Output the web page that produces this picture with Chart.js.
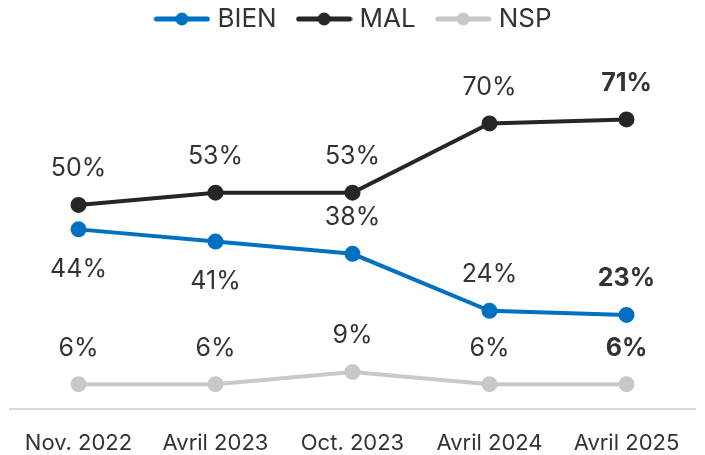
<!DOCTYPE html>
<html>
<head>
<meta charset="utf-8">
<script src="https://cdn.jsdelivr.net/npm/chart.js@4"></script>
<style>
  html, body { margin: 0; padding: 0; background: #fff; }
  #wrap { width: 705px; height: 455px; }
</style>
</head>
<body>
<div id="wrap"><canvas id="myChart"></canvas></div>
<script>
// Données
const categories = ['Nov. 2022', 'Avril 2023', 'Oct. 2023', 'Avril 2024', 'Avril 2025'];
const bien = [44, 41, 38, 24, 23];
const mal = [50, 53, 53, 70, 71];
const nsp = [6, 6, 9, 6, 6];
const yTicks = [0, 90];

const FONT = "Inter, 'Liberation Sans', Arial, sans-serif";
const TEXT_COLOR = '#333333';

// Marqueur de légende : trait + point
function legendMarker(color) {
    const c = document.createElement('canvas');
    c.width = 57;
    c.height = 14;
    const g = c.getContext('2d');
    g.strokeStyle = color;
    g.lineWidth = 5;
    g.lineCap = 'round';
    g.beginPath();
    g.moveTo(3, 7);
    g.lineTo(54, 7);
    g.stroke();
    g.fillStyle = color;
    g.beginPath();
    g.arc(28.5, 7, 6.5, 0, Math.PI * 2);
    g.fill();
    return c;
}

// Étiquettes de valeurs (au-dessus / en dessous)
const valueLabels = {
    id: 'valueLabels',
    afterDatasetsDraw(chart) {
        const ctx = chart.ctx;
        ctx.save();
        ctx.textAlign = 'center';
        ctx.textBaseline = 'middle';
        ctx.fillStyle = TEXT_COLOR;
        chart.data.datasets.forEach((ds, di) => {
            const meta = chart.getDatasetMeta(di);
            meta.data.forEach((pt, i) => {
                const below = ds.labelBelow && ds.labelBelow[i];
                const last = i === ds.data.length - 1;
                ctx.font = (last ? 'bold ' : '') + '25px ' + FONT;
                const y = below ? pt.y + 40 : pt.y - 36;
                ctx.fillText(ds.data[i] + '%', pt.x, y);
            });
        });
        ctx.restore();
    }
};

const ctx = document.getElementById('myChart').getContext('2d');

const graph = new Chart(ctx, {
    type: 'line',
    data: {
        labels: categories,
        datasets: [
            {
                label: 'BIEN',
                data: bien,
                borderColor: '#0070C0',
                backgroundColor: '#0070C0',
                borderWidth: 4,
                pointRadius: 6,
                pointStyle: 'circle',
                labelBelow: [true, true, false, false, false]
            },
            {
                label: 'MAL',
                data: mal,
                borderColor: '#262626',
                backgroundColor: '#262626',
                borderWidth: 4,
                pointRadius: 6,
                pointStyle: 'circle'
            },
            {
                label: 'NSP',
                data: nsp,
                borderColor: '#C8C8C8',
                backgroundColor: '#C8C8C8',
                borderWidth: 4,
                pointRadius: 6,
                pointStyle: 'circle'
            }
        ]
    },
    options: {
        responsive: true,
        maintainAspectRatio: false,
        animation: false,
        layout: {
            padding: { left: 9, right: 3, top: -19, bottom: -24 }
        },
        plugins: {
            legend: {
                display: true,
                position: 'top',
                labels: {
                    usePointStyle: true,
                    pointStyleWidth: 45,
                    color: TEXT_COLOR,
                    font: { family: FONT, size: 26 },
                    padding: 25,
                    generateLabels(chart) {
                        return chart.data.datasets.map((ds, i) => ({
                            text: ds.label,
                            fillStyle: ds.borderColor,
                            strokeStyle: ds.borderColor,
                            fontColor: TEXT_COLOR,
                            lineWidth: 0,
                            pointStyle: legendMarker(ds.borderColor),
                            hidden: false,
                            datasetIndex: i
                        }));
                    }
                }
            },
            tooltip: { enabled: false }
        },
        scales: {
            x: {
                offset: true,
                grid: { display: false, drawTicks: false },
                border: { display: true, color: '#D9D9D9', width: 2 },
                ticks: {
                    color: TEXT_COLOR,
                    font: { family: FONT, size: 22 },
                    padding: 22,
                    maxRotation: 0,
                    autoSkip: false
                },
                afterFit(scale) {
                    // pas de marge supplémentaire pour les libellés des extrémités
                    scale.paddingLeft = 0;
                    scale.paddingRight = 0;
                }
            },
            y: {
                display: false,
                min: yTicks[0],
                max: yTicks[1]
            }
        }
    },
    plugins: [valueLabels]
});
</script>
</body>
</html>
